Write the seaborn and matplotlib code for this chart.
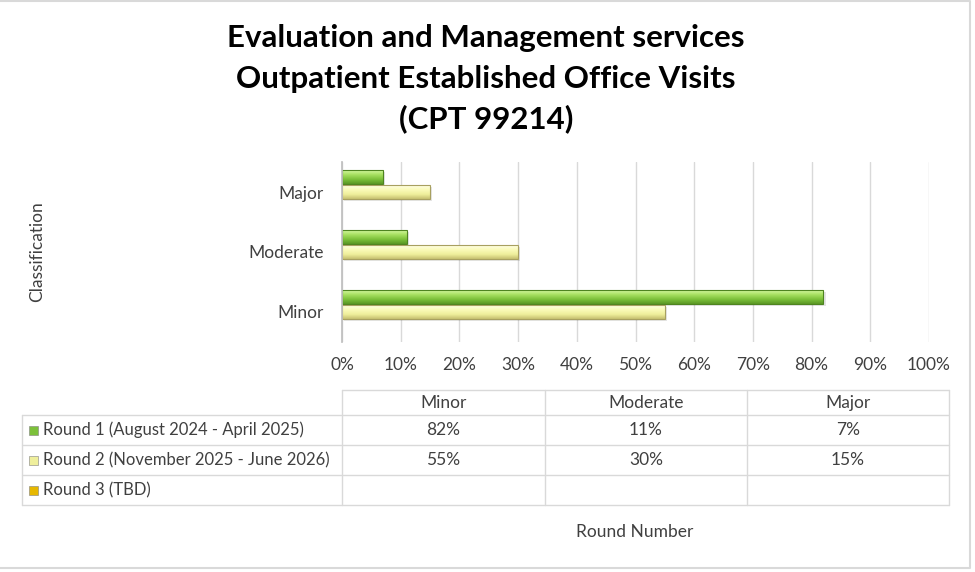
import numpy as np
import pandas as pd
import matplotlib
matplotlib.use('Agg')
import matplotlib.pyplot as plt
import seaborn as sns
from matplotlib.colors import LinearSegmentedColormap
from matplotlib.patches import Rectangle

# data
title_lines = ['Evaluation and Management services',
               'Outpatient Established Office Visits',
               '(CPT 99214)']
categories = ['Minor', 'Moderate', 'Major']          # table column order
plot_order = ['Major', 'Moderate', 'Minor']          # top -> bottom on chart
rounds = ['Round 1 (August 2024 - April 2025)',
          'Round 2 (November 2025 - June 2026)',
          'Round 3 (TBD)']
round1 = [82, 11, 7]
round2 = [55, 30, 15]
round3 = [None, None, None]
xticks = [0, 10, 20, 30, 40, 50, 60, 70, 80, 90, 100]

colors = {rounds[0]: '#7CC03A', rounds[1]: '#EFEF9C', rounds[2]: '#E6B800'}
grad_colors = {
    rounds[0]: ['#D4F7A0', '#A6E060', '#7CC03A', '#5A9826'],
    rounds[1]: ['#FFFFE6', '#FAFAB8', '#EFEF9C', '#C6C070'],
}
edge_colors = {rounds[0]: '#4E8420', rounds[1]: '#A8A060'}

rows = []
for rnd, vals in zip(rounds, [round1, round2, round3]):
    for cat, v in zip(categories, vals):
        rows.append({'Round': rnd, 'Classification': cat,
                     'Value': np.nan if v is None else v})
df = pd.DataFrame(rows)

sns.set_theme(style='white')
plt.rcParams['font.family'] = ['Lato', 'DejaVu Sans']
txt = '#404040'
fs = 12.5

fig = plt.figure(figsize=(9.75, 5.72), dpi=100)

# overlay axes in pixel coordinates for table / frame
ov = fig.add_axes([0, 0, 1, 1])
ov.set_xlim(0, 975)
ov.set_ylim(572, 0)
ov.axis('off')

ax = fig.add_axes([342 / 975, 1 - 342 / 572, 587 / 975, 180 / 572])
sns.barplot(data=df, y='Classification', x='Value', hue='Round',
            order=plot_order, hue_order=rounds, palette=colors,
            saturation=1, orient='h', width=0.76, gap=0.1, errorbar=None,
            legend=False, ax=ax)

# bevel-like gradient on bars
grad = np.linspace(0, 1, 64).reshape(-1, 1)
for p in list(ax.patches):
    w = p.get_width()
    if not np.isfinite(w) or w <= 0:
        continue
    fc = matplotlib.colors.to_hex(p.get_facecolor())
    key = [k for k in colors if colors[k].lower() == fc.lower()]
    if not key or key[0] not in grad_colors:
        continue
    key = key[0]
    cmap = LinearSegmentedColormap.from_list(key, grad_colors[key])
    x0, y0, h = p.get_x(), p.get_y(), p.get_height()
    # soft shadow
    ax.add_patch(Rectangle((x0 + 0.4, y0 + h * 0.15), w, h, facecolor='#000000',
                           alpha=0.10, linewidth=0, zorder=p.get_zorder() - 0.2))
    ax.imshow(grad, extent=[x0, x0 + w, y0 + h, y0], aspect='auto',
              cmap=cmap, origin='upper', zorder=p.get_zorder() + 0.1,
              interpolation='bilinear')
    p.set_facecolor('none')
    p.set_edgecolor(edge_colors[key])
    p.set_linewidth(0.8)
    p.set_zorder(p.get_zorder() + 0.2)

ax.set_xlim(0, 100)
ax.set_ylim(2.5, -0.5)
ax.set_xticks(xticks)
ax.set_xticklabels([f'{t}%' for t in xticks])
ax.grid(axis='x', color='#D9D9D9', linewidth=1)
ax.set_axisbelow(True)
for s in ['top', 'right', 'bottom']:
    ax.spines[s].set_visible(False)
ax.spines['left'].set_color('#BFBFBF')
ax.tick_params(axis='x', length=0, pad=11, labelsize=fs, labelcolor=txt)
ax.tick_params(axis='y', length=0, pad=13, labelsize=fs, labelcolor=txt)
ax.set_xlabel('')
ax.set_ylabel('Classification', fontsize=fs, color=txt)
ax.yaxis.set_label_coords(-0.505, 0.5)

# title
for i, line in enumerate(title_lines):
    fig.text(486 / 975, 1 - (38 + 40.5 * i) / 572, line, ha='center', va='center',
             fontsize=22.5, fontweight='bold', color='#000000')

# data table
lc = '#D9D9D9'
col_x = [342, 545, 747, 949]
row_y = [390, 415, 445, 475, 505]
ov.plot([342, 949], [390, 390], color=lc, lw=1)
for y in row_y[1:]:
    ov.plot([22, 949], [y, y], color=lc, lw=1)
ov.plot([22, 22], [415, 505], color=lc, lw=1)
for x in col_x:
    ov.plot([x, x], [390, 505], color=lc, lw=1)

for j, cat in enumerate(categories):
    cx = (col_x[j] + col_x[j + 1]) / 2
    ov.text(cx, 403, cat, ha='center', va='center', fontsize=fs, color=txt)

for i, (rnd, vals) in enumerate(zip(rounds, [round1, round2, round3])):
    cy = (row_y[i + 1] + row_y[i + 2]) / 2
    ov.add_patch(Rectangle((29, cy - 4.5), 9, 9, facecolor=colors[rnd],
                           edgecolor='#808080', linewidth=0.4))
    ov.text(43, cy, rnd, ha='left', va='center', fontsize=12, color=txt)
    for j, v in enumerate(vals):
        if v is None:
            continue
        cx = (col_x[j] + col_x[j + 1]) / 2
        ov.text(cx, cy, f'{v}%', ha='center', va='center', fontsize=fs, color=txt)

ov.text(635, 532, 'Round Number', ha='center', va='center', fontsize=fs, color=txt)

# outer frame
ov.plot([-5, 970, 970, -5], [1, 1, 568, 568], color='#D9D9D9', lw=1.5)

fig.savefig('out.png', dpi=100)
